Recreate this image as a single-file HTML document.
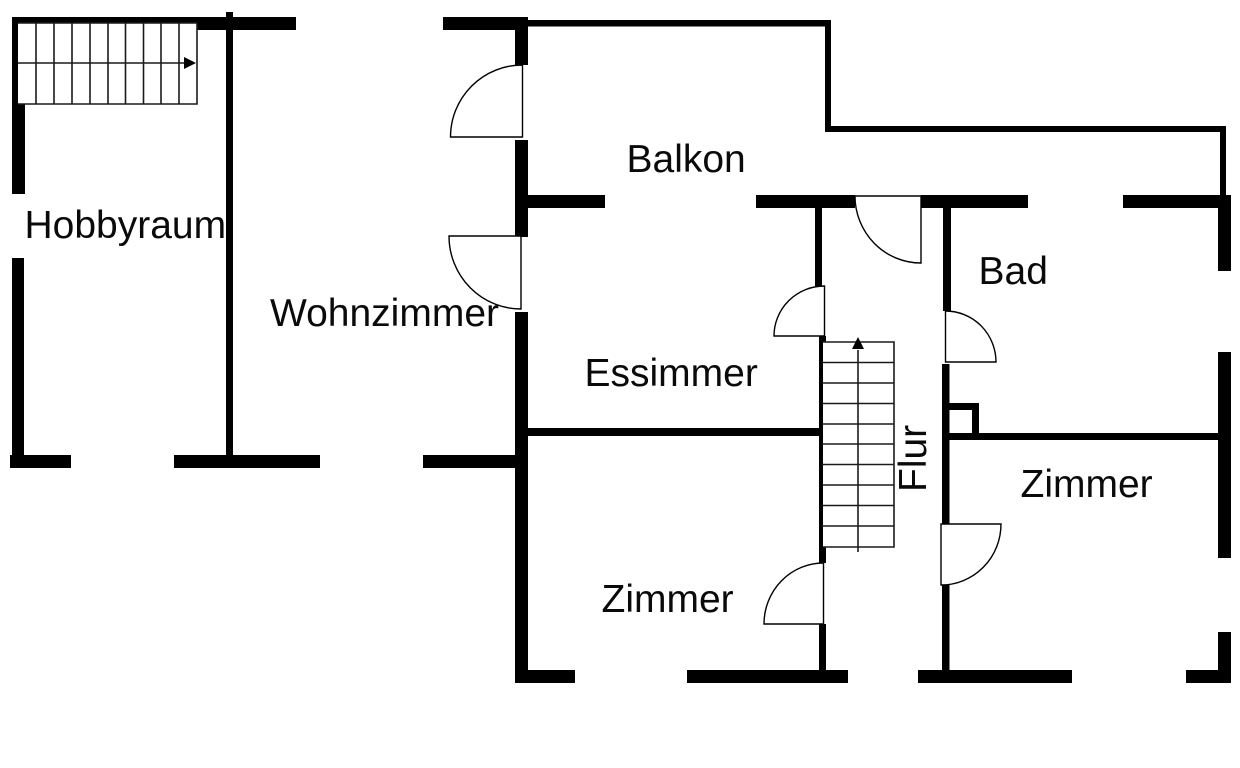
<!DOCTYPE html>
<html><head><meta charset="utf-8"><style>html,body{margin:0;padding:0;background:#fff}svg{display:block}text{font-family:"Liberation Sans",Arial,sans-serif;font-size:39px;fill:#0a0a0a}</style></head><body>
<svg width="1240" height="768" viewBox="0 0 1240 768" xmlns="http://www.w3.org/2000/svg">
<rect width="1240" height="768" fill="#fff"/>
<!-- walls -->
<g fill="#000">
<rect x="12" y="17" width="185" height="6"/><rect x="197" y="17" width="99" height="13"/>
<rect x="12" y="17" width="6" height="87"/><rect x="12" y="104" width="13" height="90"/>
<rect x="226" y="12" width="7" height="445"/>
<rect x="12" y="258" width="12" height="200"/>
<rect x="10" y="455" width="61" height="13"/><rect x="174" y="455" width="146" height="13"/><rect x="423" y="455" width="97" height="13"/>
<rect x="443" y="17" width="85" height="13"/><rect x="528" y="20" width="303" height="6.500"/>
<rect x="825" y="20" width="6" height="112"/><rect x="825" y="126" width="401" height="6"/><rect x="1220" y="126" width="6" height="70"/>
<rect x="515" y="17" width="13" height="48"/><rect x="515" y="140" width="13" height="97"/><rect x="515" y="312" width="13" height="371"/>
<rect x="528" y="195" width="77" height="13"/><rect x="756" y="195" width="99" height="13"/><rect x="921" y="195" width="107" height="13"/>
<rect x="1123" y="195" width="108" height="13"/><rect x="1218" y="195" width="13" height="76"/><rect x="1218" y="352" width="13" height="206"/>
<rect x="1218" y="632" width="13" height="51"/><rect x="1186" y="670" width="45" height="13"/>
<rect x="815" y="208" width="7" height="78"/>
<rect x="819" y="336" width="7" height="6"/><rect x="819" y="342" width="4" height="205"/><rect x="819" y="547" width="7" height="16"/><rect x="819" y="624" width="7" height="46"/>
<rect x="528" y="428" width="292" height="8"/>
<rect x="943" y="208" width="8" height="103"/><rect x="942" y="364" width="7.500" height="160"/><rect x="942" y="585" width="7.500" height="85"/>
<rect x="949" y="403" width="30" height="7"/><rect x="972" y="403" width="7" height="34"/><rect x="949" y="433" width="269" height="7"/>
<rect x="515" y="670" width="60" height="13"/><rect x="687" y="670" width="161" height="13"/><rect x="918" y="670" width="154" height="13"/>
</g>
<!-- doors -->
<g fill="#fff" stroke="#000" stroke-width="1.400">
<path d="M522.500 65V137H450.500A72 72 0 0 1 522.500 65Z"/>
<path d="M521 236V309A72 73 0 0 1 449 236Z"/>
<path d="M921 196V263A66 67 0 0 1 855 196Z"/>
<path d="M824.500 286V336H774A50.500 50 0 0 1 824.500 286Z"/>
<path d="M945.500 311A50.500 51 0 0 1 996 362H945.500Z"/>
<path d="M941 524H1001A60 61 0 0 1 941 585Z"/>
<path d="M823.500 563V624H764A59.500 61 0 0 1 823.500 563Z"/>
</g>
<!-- stair 1 -->
<g fill="none" stroke="#1a1a1a" stroke-width="1.600">
<path d="M18 23H197V104H18"/>
<path d="M36 23V104M54 23V104M72 23V104M90 23V104M108 23V104M125.500 23V104M143.500 23V104M161 23V104M179 23V104"/>
<path d="M18 63H186"/>
<!-- stair 2 -->
<path d="M822.500 342H894V547H822.500"/>
<path d="M822 362.500H894M822 383H894M822 403.500H894M822 424H894M822 444H894M822 464.500H894M822 485H894M822 505.500H894M822 526H894"/>
<path d="M858 350V552"/>
</g>
<path d="M184 57L196 63L184 69Z" fill="#000"/>
<path d="M858 337L864 349H852Z" fill="#000"/>
<!-- labels -->
<text x="24.500" y="238">Hobbyraum</text>
<text x="270" y="326">Wohnzimmer</text>
<text x="626.500" y="172">Balkon</text>
<text x="584.500" y="386">Essimmer</text>
<text x="978.500" y="284">Bad</text>
<text x="1020.500" y="497">Zimmer</text>
<text x="601.500" y="612">Zimmer</text>
<text transform="translate(926 492) rotate(-90)">Flur</text>
</svg>
</body></html>
